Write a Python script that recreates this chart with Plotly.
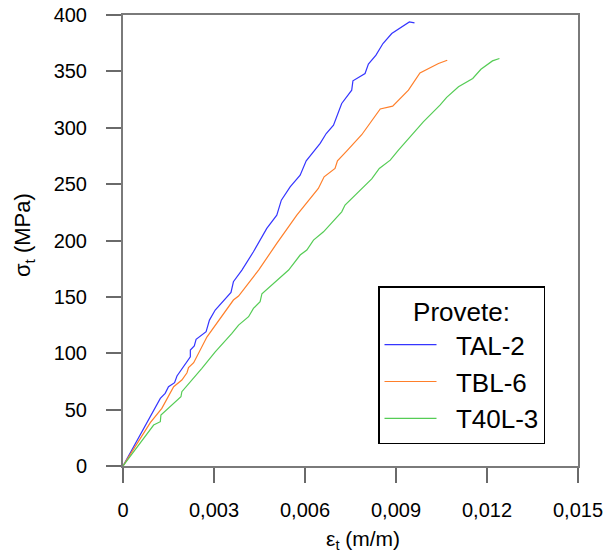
import plotly.graph_objects as go

# TAL-2
tal2_eps = [0, 0.00123, 0.00139, 0.00150, 0.00170, 0.00178, 0.00222, 0.00222, 0.00235, 0.00241,
            0.00274, 0.00285, 0.00304, 0.00356, 0.00364, 0.00392, 0.00430, 0.00474, 0.00507,
            0.00522, 0.00551, 0.00584, 0.00604, 0.00650, 0.00670, 0.00694, 0.00721, 0.00754,
            0.00758, 0.00798, 0.00809, 0.00834, 0.00857, 0.00886, 0.00944, 0.00961]
tal2_sig = [0, 60.0, 64.4, 70.3, 73.9, 79.8, 96.9, 102.8, 106.4, 112.3,
            119.1, 129.4, 138.3, 154.0, 163.4, 173.8, 190.0, 210.7, 222.5,
            235.8, 247.6, 258.0, 270.7, 286.1, 294.9, 302.3, 321.5, 333.3,
            341.6, 348.1, 356.4, 364.4, 374.7, 383.6, 393.9, 393.0]

# TBL-6
tbl6_eps = [0, 0.00090, 0.00128, 0.00167, 0.00194, 0.00211, 0.00216, 0.00233, 0.00277, 0.00364,
            0.00381, 0.00447, 0.00507, 0.00573, 0.00644, 0.00663, 0.00699, 0.00707, 0.00738,
            0.00787, 0.00848, 0.00889, 0.00941, 0.00979, 0.01040, 0.01069]
tbl6_sig = [0, 38.4, 51.1, 70.3, 76.2, 82.7, 87.2, 91.6, 114.6, 147.2,
            150.7, 173.8, 197.4, 222.5, 246.2, 256.5, 263.9, 270.7, 279.5,
            293.8, 316.7, 319.1, 333.3, 348.7, 357.0, 359.9]

# T40L-3
t40l3_eps = [0, 0.00101, 0.00123, 0.00125, 0.00191, 0.00194, 0.00260, 0.00304, 0.00359, 0.00381,
             0.00414, 0.00430, 0.00452, 0.00458, 0.00546, 0.00584, 0.00606, 0.00628, 0.00661,
             0.00721, 0.00732, 0.00749, 0.00820, 0.00845, 0.00881, 0.00908, 0.00957, 0.00990,
             0.01045, 0.01067, 0.01106, 0.01153, 0.01180, 0.01218, 0.01241]
t40l3_sig = [0, 36.3, 39.3, 45.2, 61.4, 65.9, 86.6, 101.3, 117.6, 125.0,
             132.4, 139.8, 145.7, 152.8, 173.8, 187.1, 191.5, 200.4, 207.7,
             225.4, 231.4, 235.8, 254.6, 263.9, 271.3, 280.1, 295.5, 305.2,
             320.0, 326.9, 336.3, 343.7, 351.9, 359.3, 361.4]

series_names = ["TAL-2", "TBL-6", "T40L-3"]
series_colors = ["#3535ff", "#ff7f2a", "#55cc55"]

x_ticks = [0, 0.003, 0.006, 0.009, 0.012, 0.015]
y_ticks = [0, 50, 100, 150, 200, 250, 300, 350, 400]

data = [(tal2_eps, tal2_sig), (tbl6_eps, tbl6_sig), (t40l3_eps, t40l3_sig)]

NB = "\u00a0\u00a0"
fig = go.Figure()
for (xs, ys), name, col in zip(data, series_names, series_colors):
    fig.add_trace(go.Scatter(x=xs, y=ys, mode="lines", name=NB + name,
                             line=dict(color=col, width=1.2)))

FONT = "Liberation Sans, Arial, sans-serif"
axis_common = dict(
    showgrid=False, zeroline=False, showline=True, linecolor="#7a7a7a", linewidth=2,
    mirror=True, ticks="outside", ticklen=15, tickwidth=2, tickcolor="#6a6a6a",
    tickfont=dict(family=FONT, size=20, color="black"), automargin=False,
    ticklabeloverflow="allow",
)

# page is offset by the body margin (8 px); work in page pixels
OFF = 8
W, H = 613 - OFF, 554 - OFF
PL, PR, PT, PB = 123, 578, 15, 466   # plot area in page pixels
L, R, T, B = PL - OFF, 613 - PR, PT - OFF, 554 - PB
pw, ph = PR - PL, PB - PT

def px(xp):
    return (xp - PL) / pw

def py(yp):
    return (PB - yp) / ph

fig.update_layout(
    width=W, height=H,
    margin=dict(l=L, r=R, t=T, b=B),
    plot_bgcolor="white", paper_bgcolor="white",
    separators=",.",
    font=dict(family=FONT, color="black"),
    showlegend=True,
    legend=dict(
        x=px(378), y=py(286), xanchor="left", yanchor="top",
        bgcolor="white", bordercolor="black", borderwidth=1.5,
        font=dict(family=FONT, size=26, color="black"),
        title=dict(text="Provete:", side="top center", font=dict(family=FONT, size=26)),
        itemwidth=52, tracegroupgap=0,
    ),
    annotations=[
        dict(text="ε<sub>t</sub> (m/m)", x=px(363), y=py(540), xref="paper", yref="paper",
             showarrow=False, xanchor="center", yanchor="middle",
             font=dict(family=FONT, size=21, color="black")),
        dict(text="σ<sub>t</sub> (MPa)", x=px(24), y=py(235), xref="paper", yref="paper",
             showarrow=False, xanchor="center", yanchor="middle", textangle=-90,
             font=dict(family=FONT, size=22, color="black")),
    ],
)
fig.update_xaxes(range=[0, 0.015], tickvals=x_ticks, ticklabelstandoff=10, **axis_common)
fig.update_yaxes(range=[0, 400], tickvals=y_ticks, ticklabelstandoff=15, **axis_common)

fig.write_html("out.html")
